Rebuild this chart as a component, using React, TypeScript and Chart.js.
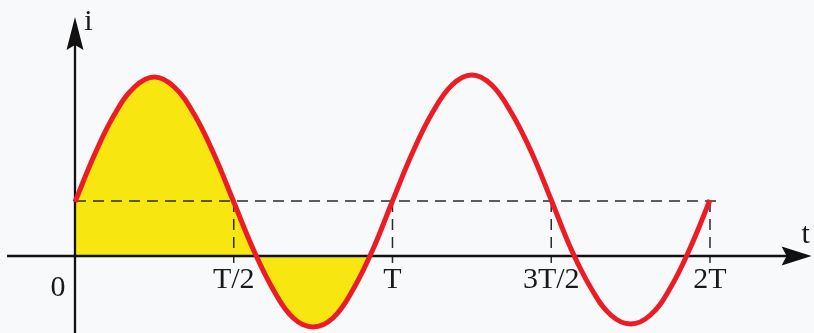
import React, { useEffect, useRef } from 'react';
import { Chart, registerables } from 'chart.js';

// ---- data (t in units of T, i in arbitrary units) ----
const T_SAMPLES = [
  0, 0.0625, 0.125, 0.1875, 0.25, 0.3125, 0.375, 0.4375, 0.5, 0.5625, 0.625, 0.6875, 0.75, 0.8125, 0.875, 0.9375,
  1, 1.0625, 1.125, 1.1875, 1.25, 1.3125, 1.375, 1.4375, 1.5, 1.5625, 1.625, 1.6875, 1.75, 1.8125, 1.875, 1.9375, 2,
];
const I_VALUES = [
  5.4, 10.2, 14.2, 16.9, 17.9, 16.9, 14.2, 10.2, 5.4, 0.6, -3.4, -6.2, -7.1, -6.2, -3.4, 0.6,
  5.5, 10.3, 14.3, 17.1, 18.1, 17.1, 14.3, 10.4, 5.6, 0.7, -3.2, -5.9, -6.8, -5.9, -3.2, 0.8, 5.6,
];
const DC_LEVEL = 5.5;
const FILL_END_T = 0.925;
const TICK_T = [0.5, 1, 1.5, 2];
const TICK_LABELS = ['T/2', 'T', '3T/2', '2T'];
const ORIGIN_LABEL = '0';
const X_AXIS_TITLE = 't';
const Y_AXIS_TITLE = 'i';
const X_RANGE = [-0.2362, 2.3276];
const Y_RANGE = [-7.7, 25.6];
const X_AXIS_START = -0.214;
const X_AXIS_TIP = 2.32;
const Y_AXIS_TIP = 23.9;
const DASH_END_T = 2.03;
const TICK_DROP = -0.7;

const RED = '#ec1c24';
const YELLOW = '#f8e610';
const DASH_COLOR = '#2a2a2a';
const FONT = '30px "Liberation Serif", "DejaVu Serif", serif';

const fillClipPlugin = {
  id: 'fillClip',
  beforeDatasetDraw(chart: any, args: any) {
    const ds = chart.data.datasets[args.index];
    if (ds.clipToT === undefined) return;
    const { ctx, chartArea, scales } = chart;
    const xEnd = scales.x.getPixelForValue(ds.clipToT);
    ctx.save();
    ctx.beginPath();
    ctx.rect(chartArea.left, chartArea.top, xEnd - chartArea.left, chartArea.bottom - chartArea.top);
    ctx.clip();
  },
  afterDatasetDraw(chart: any, args: any) {
    const ds = chart.data.datasets[args.index];
    if (ds.clipToT === undefined) return;
    chart.ctx.restore();
  },
};
Chart.register(fillClipPlugin);
Chart.register(...registerables);

const decorPlugin = {
  id: 'decor',
  afterDatasetsDraw(chart: any) {
    const { ctx, scales } = chart;
    const xs = scales.x;
    const ys = scales.y;
    const x0 = xs.getPixelForValue(0);
    const y0 = ys.getPixelForValue(0);
    ctx.save();
    ctx.fillStyle = '#111';
    // y arrow
    const yTip = ys.getPixelForValue(Y_AXIS_TIP);
    ctx.beginPath();
    ctx.moveTo(x0, yTip);
    ctx.lineTo(x0 + 8.5, yTip + 33);
    ctx.lineTo(x0, yTip + 28);
    ctx.lineTo(x0 - 8.5, yTip + 33);
    ctx.closePath();
    ctx.fill();
    // x arrow
    const xTip = xs.getPixelForValue(X_AXIS_TIP);
    ctx.beginPath();
    ctx.moveTo(xTip, y0);
    ctx.lineTo(xTip - 30, y0 - 9.5);
    ctx.lineTo(xTip - 25, y0);
    ctx.lineTo(xTip - 30, y0 + 9.5);
    ctx.closePath();
    ctx.fill();
    // labels
    ctx.font = FONT;
    ctx.fillStyle = '#1a1a1a';
    ctx.textAlign = 'center';
    ctx.textBaseline = 'alphabetic';
    TICK_T.forEach((t, i) => {
      ctx.fillText(TICK_LABELS[i], xs.getPixelForValue(t), y0 + 32);
    });
    ctx.fillText(ORIGIN_LABEL, x0 - 17, y0 + 40);
    ctx.fillText(X_AXIS_TITLE, xTip - 6, y0 - 13);
    ctx.fillText(Y_AXIS_TITLE, x0 + 13.5, yTip + 13);
    ctx.restore();
  },
};

export default function App() {
  const ref = useRef<HTMLCanvasElement | null>(null);
  useEffect(() => {
    if (!ref.current) return;
    const curve = T_SAMPLES.map((t, i) => ({ x: t, y: I_VALUES[i] }));
    const dashStyle = { borderColor: DASH_COLOR, borderWidth: 1.5, borderDash: [11, 7], pointRadius: 0, fill: false, tension: 0 };
    const datasets: any[] = [
      { data: curve, borderColor: RED, borderWidth: 5, pointRadius: 0, tension: 0.4, fill: false, order: 0 },
      { data: [{ x: X_AXIS_START, y: 0 }, { x: X_AXIS_TIP - 0.05, y: 0 }], borderColor: '#111', borderWidth: 2.3, pointRadius: 0, fill: false, order: 1 },
      { data: [{ x: 0, y: Y_RANGE[0] }, { x: 0, y: Y_AXIS_TIP - 1 }], borderColor: '#111', borderWidth: 2.3, pointRadius: 0, fill: false, order: 1 },
      { data: [{ x: 0, y: DC_LEVEL }, { x: DASH_END_T, y: DC_LEVEL }], ...dashStyle, order: 2 },
      ...TICK_T.map((t) => ({ data: [{ x: t, y: DC_LEVEL }, { x: t, y: TICK_DROP }], ...dashStyle, order: 2 })),
      { data: curve, borderColor: 'rgba(0,0,0,0)', borderWidth: 0, backgroundColor: YELLOW, pointRadius: 0, tension: 0.4, fill: 'origin', order: 3, clipToT: FILL_END_T },
    ];
    const chart = new Chart(ref.current, {
      type: 'line',
      data: { datasets },
      options: {
        animation: false,
        responsive: true,
        maintainAspectRatio: false,
        layout: { padding: 0 },
        plugins: { legend: { display: false }, tooltip: { enabled: false } },
        scales: {
          x: { type: 'linear', min: X_RANGE[0], max: X_RANGE[1], display: false },
          y: { type: 'linear', min: Y_RANGE[0], max: Y_RANGE[1], display: false },
        },
      },
      plugins: [decorPlugin],
    });
    return () => chart.destroy();
  }, []);
  return (
    <div style={{ position: 'fixed', left: 0, top: 0, width: 814, height: 333, background: '#f8f9fb' }}>
      <canvas ref={ref} />
    </div>
  );
}
